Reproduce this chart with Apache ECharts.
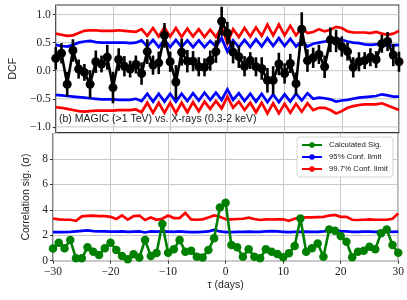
<!DOCTYPE html>
<html><head><meta charset="utf-8">
<script src="https://cdn.jsdelivr.net/npm/echarts@6/dist/echarts.min.js"></script>
<style>html,body{margin:0;padding:0;background:#fff}#c{width:407px;height:300px}</style>
</head><body><div id="c"></div>
<script>
const lags = [-30,-29,-28,-27,-26,-25,-24,-23,-22,-21,-20,-19,-18,-17,-16,-15,-14,-13,-12,-11,-10,-9,-8,-7,-6,-5,-4,-3,-2,-1,0,1,2,3,4,5,6,7,8,9,10,11,12,13,14,15,16,17,18,19,20,21,22,23,24,25,26,27,28,29,30];
const dcf = [0.22,0.31,-0.24,0.36,0.03,-0.03,-0.24,0.16,0.12,0.24,-0.30,0.20,0.08,0.03,0.11,-0.05,0.34,0.10,0.14,0.63,0.16,-0.20,0.33,0.17,0.17,0.07,0.06,0.18,0.34,0.88,0.67,0.33,0.25,0.08,0.18,0.07,0.04,-0.17,-0.17,0.12,-0.05,0.13,-0.23,0.74,0.18,0.23,0.29,0.07,0.55,0.53,0.43,0.34,0.06,0.16,0.18,0.24,0.20,0.48,0.52,0.28,0.16];
const dcfErr = [0.20,0.18,0.22,0.20,0.17,0.15,0.25,0.20,0.15,0.22,0.28,0.20,0.18,0.15,0.16,0.20,0.22,0.17,0.20,0.22,0.18,0.30,0.24,0.20,0.18,0.17,0.16,0.18,0.20,0.26,0.20,0.20,0.20,0.18,0.15,0.17,0.20,0.22,0.25,0.20,0.18,0.17,0.20,0.30,0.20,0.18,0.17,0.20,0.22,0.20,0.18,0.16,0.18,0.17,0.15,0.16,0.15,0.16,0.17,0.20,0.18];
const dcf997Up = [0.66,0.64,0.62,0.63,0.67,0.71,0.72,0.72,0.71,0.71,0.71,0.72,0.71,0.70,0.69,
  0.74,0.62,0.76,0.61,0.77,0.61,0.76,0.60,0.75,0.61,0.74,0.60,0.73,0.60,0.78,0.49,0.74,0.60,0.76,0.61,0.77,0.62,0.82,0.63,0.82,0.63,0.80,0.63,0.76,
  0.67,0.69,0.74,0.70,0.73,0.78,0.76,0.70,0.68,0.68,0.68,0.67,0.69,0.66,0.64,0.66,0.71];
const dcf95Up = [0.46,0.44,0.43,0.46,0.50,0.52,0.53,0.51,0.50,0.50,0.50,0.50,0.50,0.49,0.50,
  0.54,0.43,0.55,0.42,0.55,0.42,0.55,0.42,0.54,0.42,0.54,0.42,0.53,0.43,0.58,0.34,0.54,0.42,0.55,0.42,0.56,0.43,0.58,0.44,0.58,0.44,0.57,0.43,0.53,
  0.43,0.48,0.50,0.52,0.53,0.57,0.55,0.52,0.50,0.49,0.47,0.46,0.47,0.47,0.44,0.45,0.46];
const dcf95Low = [-0.43,-0.44,-0.45,-0.46,-0.47,-0.48,-0.49,-0.50,-0.51,-0.51,-0.51,-0.52,-0.52,-0.52,-0.50,
  -0.54,-0.41,-0.55,-0.41,-0.55,-0.41,-0.55,-0.41,-0.54,-0.40,-0.53,-0.39,-0.52,-0.39,-0.52,-0.33,-0.52,-0.40,-0.54,-0.41,-0.55,-0.41,-0.56,-0.42,-0.56,-0.42,-0.55,-0.41,-0.53,
  -0.40,-0.50,-0.48,-0.49,-0.51,-0.55,-0.53,-0.52,-0.50,-0.48,-0.47,-0.46,-0.45,-0.42,-0.44,-0.46,-0.46];
const dcf997Low = [-0.65,-0.66,-0.68,-0.70,-0.72,-0.73,-0.72,-0.71,-0.71,-0.71,-0.71,-0.70,-0.70,-0.70,-0.69,
  -0.74,-0.57,-0.75,-0.57,-0.75,-0.57,-0.75,-0.57,-0.74,-0.56,-0.72,-0.55,-0.68,-0.54,-0.67,-0.46,-0.66,-0.55,-0.70,-0.57,-0.74,-0.57,-0.76,-0.58,-0.76,-0.59,-0.75,-0.59,-0.73,
  -0.58,-0.70,-0.66,-0.66,-0.70,-0.76,-0.72,-0.66,-0.63,-0.61,-0.60,-0.60,-0.60,-0.58,-0.62,-0.66,-0.70];
const sig = [0.95,1.41,0.97,1.62,0.19,0.19,1.05,0.71,0.45,0.97,1.41,0.84,0.37,0.11,0.50,0.25,1.62,0.37,0.60,2.88,0.62,0.90,1.62,0.71,0.79,0.31,0.25,0.84,1.76,4.19,4.55,1.23,1.05,0.31,0.90,0.31,0.19,0.90,0.71,0.53,0.27,0.58,1.15,3.32,0.71,0.97,1.36,0.31,2.46,2.35,1.94,1.49,0.27,0.71,0.78,1.10,0.90,2.15,2.46,1.23,0.63];
const sig95 = [2.25,2.24,2.25,2.26,2.30,2.35,2.38,2.33,2.30,2.30,2.28,2.28,2.30,2.27,2.28,2.30,2.22,2.30,2.28,2.30,2.28,2.26,2.30,2.27,2.25,2.25,2.27,2.30,2.42,2.30,2.25,2.25,2.26,2.27,2.28,2.27,2.27,2.30,2.33,2.30,2.27,2.25,2.27,2.27,2.28,2.27,2.27,2.30,2.35,2.38,2.32,2.30,2.27,2.27,2.28,2.28,2.27,2.28,2.30,2.27,2.28];
const sig997 = [3.32,3.25,3.22,3.22,3.14,3.48,3.52,3.55,3.50,3.50,3.45,3.28,3.56,3.22,3.50,3.55,3.20,3.40,3.22,3.30,3.55,3.35,3.35,3.75,3.25,3.22,3.25,3.40,3.56,3.46,3.26,3.25,3.28,3.30,3.38,3.28,3.20,3.25,3.24,3.25,3.26,3.14,3.30,3.42,3.40,3.40,3.42,3.45,3.55,3.60,3.45,3.45,3.22,3.20,3.22,3.25,3.22,3.22,3.22,3.30,3.72];
const dcfTicks = [-1.0,-0.5,0.0,0.5,1.0];
const annotation = '(b) MAGIC (>1 TeV) vs. X-rays (0.3-2 keV)';

const pair = (ys) => lags.map((t,i) => [t, ys[i]]);
const minus = (s) => String(s).replace('-', '\u2212');
const serif = '"Liberation Serif", serif';
const sans = '"Liberation Sans", sans-serif';
const gridGray = '#c8c8c8';

const chart = echarts.init(document.getElementById('c'), null, {renderer:'canvas'});
const bandLine = (name, ys, color, xi) => ({
  name, type:'line', xAxisIndex:xi, yAxisIndex:xi, data: pair(ys), symbol:'none',
  lineStyle:{color, width:2.7, join:'miter'}, itemStyle:{color}, z:3, animation:false
});
chart.setOption({
  animation:false,
  grid:[
    {left:53, right:8, top:5, height:127.5, show:true, borderColor:'#333', borderWidth:1.2, backgroundColor:'transparent'},
    {left:53, right:8, top:133.5, height:127.2, show:true, borderColor:'#333', borderWidth:1.2, backgroundColor:'transparent'}
  ],
  xAxis:[
    {type:'value', gridIndex:0, min:-30, max:30, interval:10,
     axisLine:{show:false, onZero:false}, axisTick:{show:false}, axisLabel:{show:false},
     splitLine:{show:true, lineStyle:{color:gridGray, width:1}}},
    {type:'value', gridIndex:1, min:-30, max:30, interval:10,
     axisLine:{show:false, onZero:false}, axisTick:{show:true, length:3, lineStyle:{color:'#333'}},
     axisLabel:{fontFamily:serif, fontSize:11.5, color:'#222', margin:5, formatter:v=>minus(v)},
     splitLine:{show:true, lineStyle:{color:gridGray, width:1}},
     name:'\u03c4 (days)', nameLocation:'middle', nameGap:19,
     nameTextStyle:{fontFamily:sans, fontSize:10.5, color:'#222'}}
  ],
  yAxis:[
    {type:'value', gridIndex:0, min:-1.1, max:1.17,
     axisLine:{show:false, onZero:false},
     axisTick:{show:true, length:3, customValues:dcfTicks, lineStyle:{color:'#333'}},
     axisLabel:{customValues:dcfTicks, fontFamily:serif, fontSize:11.5, color:'#222', margin:5, formatter:v=>minus(v.toFixed(1))},
     splitLine:{show:false},
     name:'DCF', nameLocation:'middle', nameGap:34, nameRotate:90,
     nameTextStyle:{fontFamily:sans, fontSize:10.5, color:'#222'}},
    {type:'value', gridIndex:1, min:0, max:10, interval:2,
     axisLine:{show:false, onZero:false}, axisTick:{show:true, length:3, lineStyle:{color:'#333'}},
     axisLabel:{fontFamily:serif, fontSize:11.5, color:'#222', margin:5, showMaxLabel:false},
     splitLine:{show:true, lineStyle:{color:gridGray, width:1}},
     name:'Correlation sig. (\u03c3)', nameLocation:'middle', nameGap:20, nameRotate:90,
     nameTextStyle:{fontFamily:sans, fontSize:10.5, color:'#222'}}
  ],
  legend:{
    data:['Calculated Sig.','95% Conf. limit','99.7% Conf. limit'],
    orient:'vertical', left:297, top:137, itemWidth:20, itemHeight:7, itemGap:4,
    padding:[4,5,4,4], backgroundColor:'#fff', borderColor:'#ccc', borderWidth:0.8, borderRadius:3,
    textStyle:{fontFamily:sans, fontSize:7.8, color:'#222', padding:[0,0,0,2]}
  },
  graphic:[{type:'text', left:59, top:114, z:10,
    style:{text:annotation, font:'10.5px "Liberation Sans", sans-serif', fill:'#222'}}],
  series:[
    {name:'hgrid', type:'custom', xAxisIndex:0, yAxisIndex:0, z:1, silent:true,
     data: dcfTicks.map(v=>[v]),
     renderItem:(params, api)=>{
       const v = api.value(0);
       const p1 = api.coord([-30, v]), p2 = api.coord([30, v]);
       return {type:'line', shape:{x1:p1[0], y1:p1[1], x2:p2[0], y2:p2[1]},
               style:{stroke:gridGray, lineWidth:1}};
     }},
    bandLine('DCF 99.7% up', dcf997Up, '#ff0000', 0),
    bandLine('DCF 95% up', dcf95Up, '#0000ff', 0),
    bandLine('DCF 95% low', dcf95Low, '#0000ff', 0),
    bandLine('DCF 99.7% low', dcf997Low, '#ff0000', 0),
    {name:'DCF err', type:'custom', xAxisIndex:0, yAxisIndex:0, z:4,
     data: lags.map((t,i)=>[t, dcf[i], dcfErr[i]]),
     renderItem:(params, api)=>{
       const x = api.value(0), v = api.value(1), e = api.value(2);
       const p1 = api.coord([x, v-e]), p2 = api.coord([x, v+e]);
       return {type:'line', shape:{x1:p1[0], y1:p1[1], x2:p2[0], y2:p2[1]},
               style:{stroke:'#000', lineWidth:2.6}};
     }},
    {name:'DCF', type:'line', xAxisIndex:0, yAxisIndex:0, data: pair(dcf), z:5,
     symbol:'circle', symbolSize:9, showSymbol:true,
     lineStyle:{color:'#000', width:2.6}, itemStyle:{color:'#000'}},
    {name:'Calculated Sig.', type:'line', xAxisIndex:1, yAxisIndex:1, data: pair(sig), z:5,
     symbol:'circle', symbolSize:8.5, showSymbol:true,
     lineStyle:{color:'#008000', width:2.6}, itemStyle:{color:'#008000'}},
    bandLine('95% Conf. limit', sig95, '#0000ff', 1),
    bandLine('99.7% Conf. limit', sig997, '#ff0000', 1)
  ]
});
</script></body></html>
